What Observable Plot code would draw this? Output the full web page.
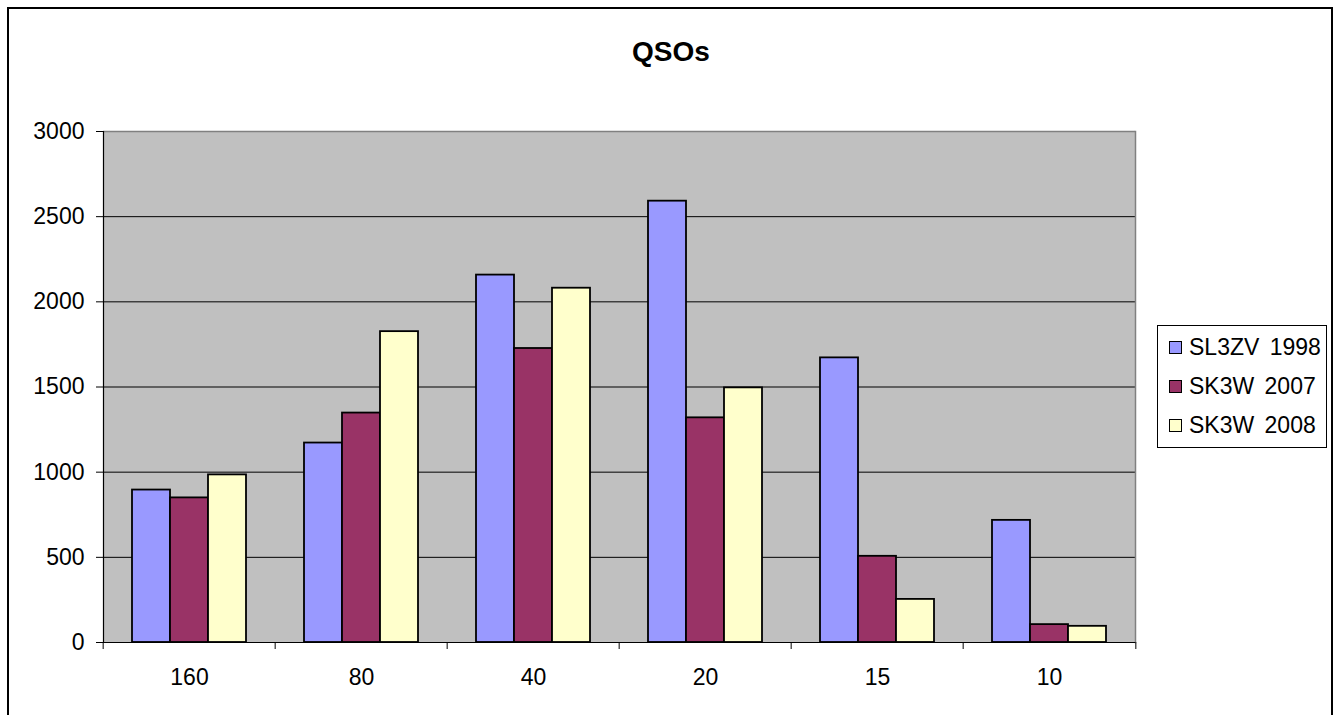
<!DOCTYPE html>
<html>
<head>
<meta charset="utf-8">
<script src="https://cdn.jsdelivr.net/npm/d3@7"></script>
<script src="https://cdn.jsdelivr.net/npm/@observablehq/plot@0.6"></script>
<style>
  html, body { margin: 0; padding: 0; background: #fff; }
  body { width: 1342px; height: 715px; position: relative; overflow: hidden;
         font-family: "Liberation Sans", Arial, sans-serif; }
  #border { position: absolute; left: 7px; top: 7px; width: 1326px; height: 720px;
            border: 2px solid #000; box-sizing: border-box; }
  #title { position: absolute; left: 0; top: 38px; width: 1342px; text-align: center;
           font-size: 28px; line-height: 28px; font-weight: bold; color: #000; }
  #chart { position: absolute; left: 0; top: 0; }
  #legend { position: absolute; left: 1157px; top: 325px; width: 170px; height: 123px;
            border: 1px solid #000; box-sizing: border-box; background: #fff; }
  .entry { position: absolute; left: 0; height: 23px; font-size: 23px; line-height: 23px;
           white-space: nowrap; color: #000; }
  .swatch { position: absolute; left: 11px; top: 5px; width: 13px; height: 13px;
            border: 1px solid #000; box-sizing: border-box; }
  .label { position: absolute; left: 31px; top: 0; word-spacing: 4px; }
</style>
</head>
<body>
<div id="border"></div>
<div id="title"></div>
<div id="chart"></div>
<div id="legend"></div>
<script>
// ---- data ----
const titleText = "QSOs";
const bands = ["160", "80", "40", "20", "15", "10"];
const seriesNames = ["SL3ZV 1998", "SK3W 2007", "SK3W 2008"];
const sl3zv1998 = [895, 1171, 2157, 2591, 1671, 717];
const sk3w2007 = [849, 1347, 1726, 1319, 506, 105];
const sk3w2008 = [984, 1825, 2080, 1495, 253, 95];
const seriesColors = ["#9999FF", "#993366", "#FFFFCC"];
const yTicks = [0, 500, 1000, 1500, 2000, 2500, 3000];

const seriesValues = [sl3zv1998, sk3w2007, sk3w2008];
const table = bands.flatMap((b, i) =>
  seriesNames.map((s, j) => ({band: b, series: s, value: seriesValues[j][i]})));

// ---- layout ----
const W = 1342, H = 700;
const ML = 101, MR = W - 1137, MT = 131, MB = H - 642;
const bw = (W - ML - MR) / bands.length;

document.getElementById("title").textContent = titleText;

const chart = Plot.plot({
  width: W, height: H,
  marginLeft: ML, marginRight: MR, marginTop: MT, marginBottom: MB,
  style: {fontFamily: "'Liberation Sans', Arial, sans-serif", fontSize: "23px",
          background: "transparent", overflow: "visible", color: "#000"},
  fx: {domain: bands, paddingInner: 0, paddingOuter: 0, label: null},
  x: {domain: seriesNames, paddingInner: 0, paddingOuter: 0.75, axis: null},
  y: {domain: [0, 3000], label: null},
  color: {domain: seriesNames, range: seriesColors},
  marks: [
    Plot.frame({fill: "#C0C0C0", stroke: "#C0C0C0", strokeWidth: 1}),
    Plot.gridY(yTicks.slice(1, -1), {stroke: "#000", strokeOpacity: 1, strokeWidth: 1}),
    Plot.ruleY([3000], {stroke: "#808080", strokeWidth: 1.5}),
    Plot.frame({anchor: "right", stroke: "#808080", strokeWidth: 1.5, fx: () => bands[bands.length - 1]}),
    Plot.frame({anchor: "left", stroke: "#000", strokeWidth: 1.2, fx: () => bands[0]}),
    Plot.ruleY([0], {stroke: "#000", strokeWidth: 1.2}),
    Plot.barY(table, {fx: "band", x: "series", y: "value", fill: "series",
                      stroke: "#000", strokeWidth: 1.8}),
    Plot.axisY({ticks: yTicks, tickSize: 7, tickPadding: 12, label: null,
                tickFormat: d => String(d), stroke: "#000"}),
    Plot.axisFx({anchor: "bottom", tickSize: 0, tickPadding: 26, label: null}),
    Plot.axisFx({anchor: "bottom", tickSize: 7, dx: -bw / 2, text: null, label: null, stroke: "#000"}),
    Plot.axisFx({anchor: "bottom", ticks: [bands[bands.length - 1]], tickSize: 7, dx: bw / 2, text: null, label: null, stroke: "#000"})
  ]
});
document.getElementById("chart").appendChild(chart);

// ---- legend ----
const legend = document.getElementById("legend");
const rowTops = [10, 49, 88];
seriesNames.forEach((name, i) => {
  const row = document.createElement("div");
  row.className = "entry";
  row.style.top = rowTops[i] + "px";
  const sw = document.createElement("div");
  sw.className = "swatch";
  sw.style.background = seriesColors[i];
  const lb = document.createElement("div");
  lb.className = "label";
  lb.textContent = name;
  row.appendChild(sw);
  row.appendChild(lb);
  legend.appendChild(row);
});
</script>
</body>
</html>
